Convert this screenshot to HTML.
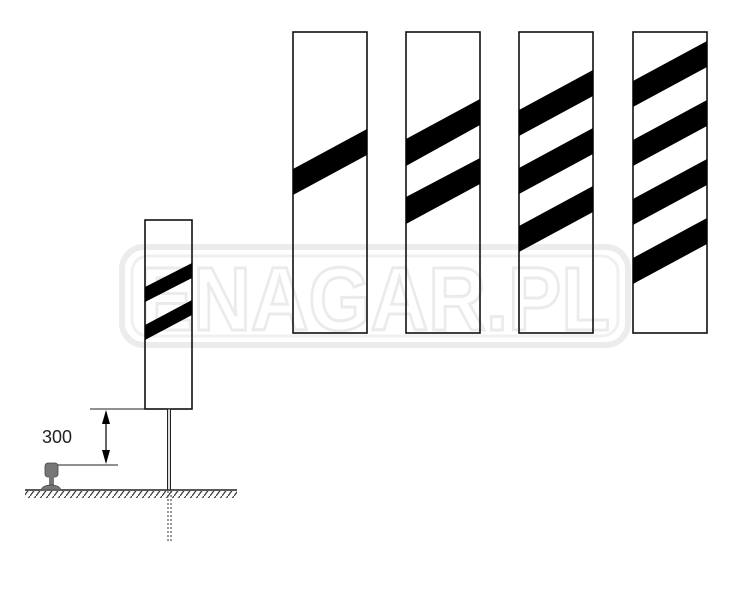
<!DOCTYPE html>
<html><head><style>html,body{margin:0;padding:0;background:#fff;}svg{display:block;}</style></head>
<body>
<svg width="747" height="597" viewBox="0 0 747 597" xmlns="http://www.w3.org/2000/svg">
<defs>
<pattern id="h" width="6" height="8" patternUnits="userSpaceOnUse">
<line x1="6" y1="0" x2="0" y2="8" stroke="#333" stroke-width="1.2"/>
</pattern>
</defs>
<!-- watermark -->
<rect x="122" y="247" width="506" height="98" rx="22" fill="none" stroke="#ececec" stroke-width="6"/>
<rect x="132" y="256" width="486" height="80" rx="16" fill="none" stroke="#f0f0f0" stroke-width="3"/>
<text x="140" y="330" textLength="470" lengthAdjust="spacingAndGlyphs" font-family="Liberation Sans, sans-serif" font-weight="bold" font-size="90" fill="#fff" stroke="#ebebeb" stroke-width="3">ENAGAR.PL</text>

<g stroke="#111" stroke-width="1.6" fill="none">
<rect x="293" y="32" width="74" height="301"/>
<rect x="406" y="32" width="74" height="301"/>
<rect x="519" y="32" width="74" height="301"/>
<rect x="633" y="32" width="74" height="301"/>
<rect x="145" y="220" width="47" height="189"/>
</g>
<g fill="#000">
<polygon points="293,169 367,129 367,155 293,195"/>
<polygon points="406,139 480,99 480,125 406,166"/>
<polygon points="406,197 480,158 480,184 406,224"/>
<polygon points="519,110 593,70 593,96 519,136"/>
<polygon points="519,168 593,128 593,154 519,194"/>
<polygon points="519,226 593,186 593,212 519,252"/>
<polygon points="633,81 707,41 707,67 633,107"/>
<polygon points="633,140 707,100 707,126 633,166"/>
<polygon points="633,199 707,159 707,185 633,225"/>
<polygon points="633,258 707,218 707,244 633,284"/>
<polygon points="145,287 192,263 192,278 145,302"/>
<polygon points="145,325 192,300 192,315 145,340"/>
</g>
<!-- post -->
<rect x="167.5" y="409" width="3" height="81" fill="#ddd" stroke="#222" stroke-width="1"/>
<line x1="168" y1="491" x2="168" y2="542" stroke="#333" stroke-width="1" stroke-dasharray="2,2"/>
<line x1="171" y1="491" x2="171" y2="542" stroke="#333" stroke-width="1" stroke-dasharray="2,2"/>
<!-- ground -->
<line x1="25" y1="490" x2="237" y2="490" stroke="#222" stroke-width="1.5"/>
<rect x="25" y="491" width="212" height="7" fill="url(#h)"/>
<!-- rail -->
<rect x="45" y="463" width="13" height="14" rx="3" fill="#777" stroke="#444" stroke-width="0.8"/>
<rect x="49" y="476" width="5" height="10" fill="#777"/>
<path d="M41,490 Q43,485 51,485 Q59,485 61,490 Z" fill="#777" stroke="#444" stroke-width="0.8"/>
<!-- dimension -->
<line x1="90" y1="409" x2="145" y2="409" stroke="#222" stroke-width="1"/>
<line x1="58" y1="465" x2="118" y2="465" stroke="#222" stroke-width="1"/>
<line x1="106" y1="412" x2="106" y2="462" stroke="#000" stroke-width="1.2"/>
<polygon points="106,410 102,424 110,424" fill="#000"/>
<polygon points="106,464 102,450 110,450" fill="#000"/>
<text x="42" y="443" font-family="Liberation Sans, sans-serif" font-size="18" fill="#222">300</text>
</svg>
</body></html>
